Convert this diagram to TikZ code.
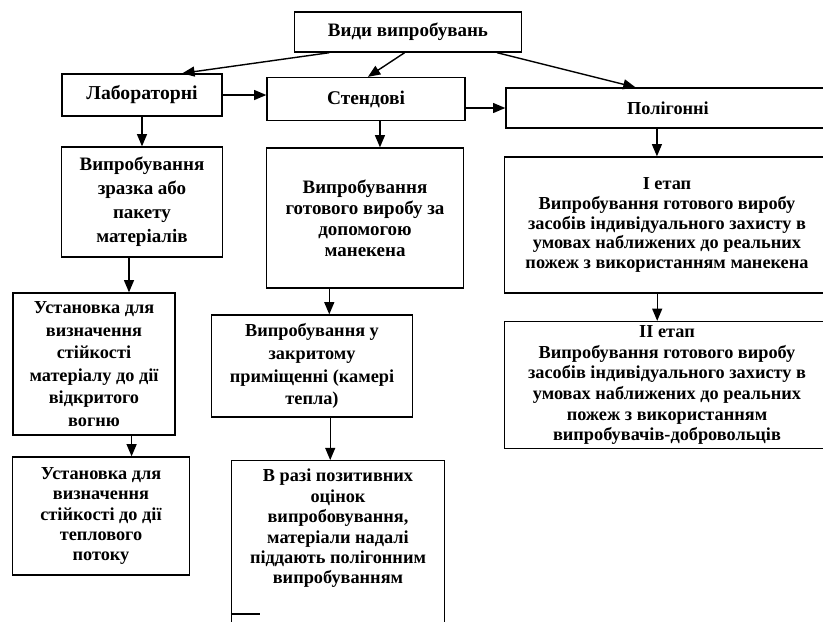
\documentclass[tikz,border=0pt]{standalone}
\usepackage{fontspec}
\setmainfont{Liberation Serif}
\usetikzlibrary{arrows}
\usetikzlibrary{positioning, calc}

\newcommand{\fs}[2]{\bfseries\fontsize{#1}{#2}\selectfont}

\begin{document}
\begin{tikzpicture}[x=0.025cm, y=-0.025cm,
        box/.style={draw, line width=1pt, align=center, inner sep=2pt, font=\fs{13}{15}},
        link/.style={line width=1pt, -triangle 45}]
        \useasboundingbox (0, 0) rectangle (823, 621);
        \clip (0, 0) rectangle (823, 621);

        % top row
        \node[box, font=\fs{13.5}{15}, minimum width=5.675cm, minimum height=1cm] (vydy) at (408, 32) {Види випробувань};
        \node[box, font=\fs{14}{16}, minimum width=4cm, minimum height=1.05cm] (lab) at (142, 95) {Лабораторні};
        \node[box, font=\fs{13.8}{16}, minimum width=4.95cm, minimum height=1.075cm] (stend) at (366, 99) {Стендові};
        \node[box, font=\fs{13}{15}, minimum width=8.1cm, minimum height=1cm] (polig) at (668, 108) {Полігонні};

        % second row
        \node[box, font=\fs{13.5}{17}, minimum width=4.025cm, minimum height=2.75cm] (samp) at (142, 202)
            {Випробування\\зразка або\\пакету\\матеріалів};
        \node[box, font=\fs{13.5}{15}, minimum width=4.925cm, minimum height=3.5cm] (mank) at (365, 218)
            {Випробування\\готового виробу за\\допомогою\\манекена};
        \node[box, font=\fs{13}{14}, minimum width=8.125cm, minimum height=3.4cm] (etap1) at (667, 225)
            {I етап\\Випробування готового виробу\\засобів індивідуального захисту в\\умовах наближених до реальних\\пожеж з використанням манекена};

        % third row
        \node[box, font=\fs{13}{16}, minimum width=4.05cm, minimum height=3.55cm] (fire) at (94, 364)
            {Установка для\\визначення\\стійкості\\матеріалу до дії\\відкритого\\вогню};
        \node[box, font=\fs{13}{16.3}, minimum width=5.025cm, minimum height=2.55cm] (room) at (312, 366)
            {Випробування у\\закритому\\приміщенні (камері\\тепла)};
        \node[box, font=\fs{13}{14.7}, minimum width=8.125cm, minimum height=3.175cm] (etap2) at (667, 385)
            {II етап\\Випробування готового виробу\\засобів індивідуального захисту в\\умовах наближених до реальних\\пожеж з використанням\\випробувачів-добровольців};

        % bottom row
        \node[box, font=\fs{13}{14.5}, minimum width=4.425cm, minimum height=2.95cm] (flux) at (101, 516)
            {Установка для\\визначення\\стійкості до дії\\теплового\\потоку};
        \node[box, font=\fs{13}{14.5}, anchor=north, minimum width=5.325cm, inner ysep=6pt, text depth=3cm] (pos) at (338, 460)
            {В разі позитивних\\оцінок\\випробовування,\\матеріали надалі\\піддають полігонним\\випробуванням};
        \draw[line width=1pt] ($(pos.north west)+(0, 154)$) -- ++(29, 0);

        % arrows from the top box
        \draw[link] ($(vydy.south west)!0.155!(vydy.south east)$) -- ($(lab.north west)!0.75!(lab.north east)$);
        \draw[link] ($(vydy.south west)!0.485!(vydy.south east)$) -- ($(stend.north west)!0.51!(stend.north east)$);
        \draw[link] ($(vydy.south west)!0.89!(vydy.south east)$) -- ($(polig.north west)!0.4!(polig.north east)$);

        \draw[link] (lab.east) -- (lab.east -| stend.west);
        \draw[link] (stend.east |- polig.west) -- (polig.west);

        % columns
        \coordinate (c1) at ($(samp.south west)!0.42!(samp.south east)$);
        \coordinate (c2) at ($(fire.south west)!0.73!(fire.south east)$);
        \draw[link] (lab.south) -- (lab.south |- samp.north);
        \draw[link] (c1) -- (c1 |- fire.north);
        \draw[link] (c2) -- (c2 |- flux.north);

        \coordinate (c3) at ($(stend.south west)!0.57!(stend.south east)$);
        \coordinate (c4) at ($(mank.south west)!0.32!(mank.south east)$);
        \coordinate (c5) at ($(room.south west)!0.59!(room.south east)$);
        \draw[link] (c3) -- (c3 |- mank.north);
        \draw[link] (c4) -- (c4 |- room.north);
        \draw[link] (c5) -- (c5 |- pos.north);

        \coordinate (c6) at ($(polig.south west)!0.466!(polig.south east)$);
        \coordinate (c7) at ($(etap1.south west)!0.47!(etap1.south east)$);
        \draw[link] (c6) -- (c6 |- etap1.north);
        \draw[link] (c7) -- (c7 |- etap2.north);
\end{tikzpicture}
\end{document}
